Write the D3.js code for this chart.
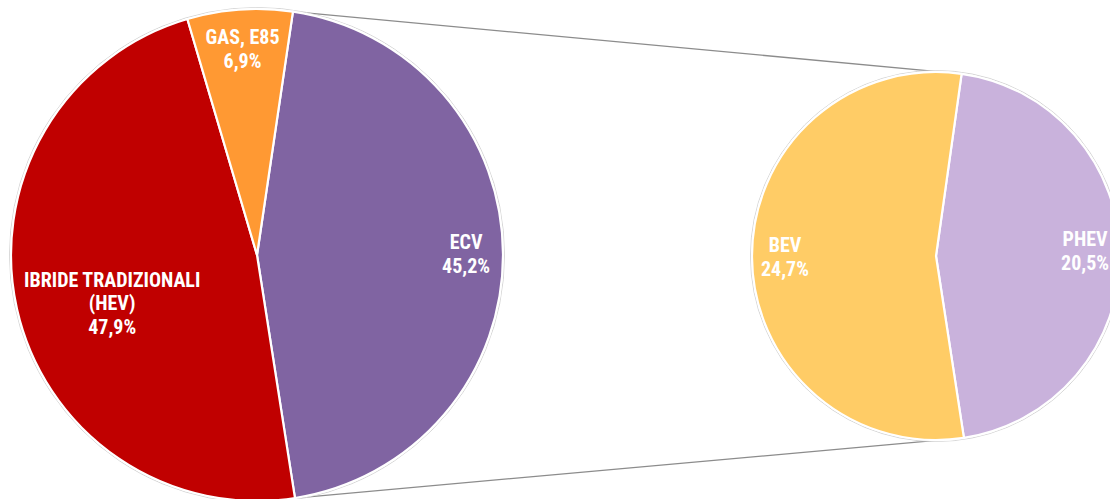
<!DOCTYPE html>
<html>
<head>
<meta charset="utf-8">
<script src="https://cdn.jsdelivr.net/npm/d3@7"></script>
<style>
  html, body { margin: 0; padding: 0; background: #fff; overflow: hidden; }
  text { font-family: "Roboto Condensed", "Arial Narrow", sans-serif; font-stretch: condensed; font-weight: bold; fill: #fff; }
</style>
</head>
<body>
<svg id="vis"></svg>
<script>
// main pie
const mainLabels = [["ECV"], ["IBRIDE TRADIZIONALI", "(HEV)"], ["GAS, E85"]];
const mainValues = [45.2, 47.9, 6.9];
const mainColors = ["#8064A2", "#C00000", "#FF9933"];

// secondary pie (split of ECV)
const subLabels = [["PHEV"], ["BEV"]];
const subValues = [20.5, 24.7];
const subColors = ["#C9B2DC", "#FFCC66"];

const width = 1110,
      height = 499;

const svg = d3.select("#vis")
  .attr("width", width)
  .attr("height", height);

const fmt = v => d3.format(".1f")(v).replace(".", ",") + "%";
const rad = deg => deg * Math.PI / 180;

// label radius as fraction of r, plus small nudges (px) to sit like the original
let main = { cx: 257, cy: 255, r: 246, start: 8.4,
             labelR: [0.85, 0.62, 0.84], nudge: [[0, 0], [4, 15], [0, 0]] },
    sub  = { cx: 936, cy: 256, r: 184, start: 8.0,
             labelR: [0.81, 0.81], nudge: [[0, -4], [-2, 0]] };

function drawPie(cfg, labels, values, colors) {
  const pie = d3.pie().sort(null)
    .startAngle(rad(cfg.start))
    .endAngle(rad(cfg.start + 360));
  const arcs = pie(values);
  const arc = d3.arc().innerRadius(0).outerRadius(cfg.r);

  const g = svg.append("g")
    .attr("transform", `translate(${cfg.cx},${cfg.cy})`);

  g.append("circle")
    .attr("r", cfg.r + 1.5)
    .attr("fill", "none")
    .attr("stroke", "#d4d4d4")
    .attr("stroke-width", 1);

  g.selectAll("path.slice")
    .data(arcs)
    .join("path")
      .attr("class", "slice")
      .attr("d", arc)
      .attr("fill", (d, i) => colors[i])
      .attr("stroke", "#fff")
      .attr("stroke-width", 2.2)
      .attr("stroke-linejoin", "round");

  arcs.forEach((d, i) => {
    const mid = (d.startAngle + d.endAngle) / 2,
          lr = cfg.r * cfg.labelR[i],
          x = Math.sin(mid) * lr + cfg.nudge[i][0],
          y = -Math.cos(mid) * lr + cfg.nudge[i][1];
    const lines = labels[i].concat([fmt(values[i])]);
    const lh = 23.5;
    const t = g.append("text")
      .attr("text-anchor", "middle")
      .attr("font-size", 20);
    lines.forEach((s, k) => {
      t.append("tspan")
        .attr("x", x)
        .attr("y", y + (k - (lines.length - 1) / 2) * lh + 7)
        .text(s);
    });
  });

  return arcs;
}

function pointAt(cfg, angle) {
  return [cfg.cx + Math.sin(angle) * cfg.r, cfg.cy - Math.cos(angle) * cfg.r];
}

// connector lines first so pies sit on top
const mainArcs = d3.pie().sort(null).startAngle(rad(main.start)).endAngle(rad(main.start + 360))(mainValues);
const subArcs = d3.pie().sort(null).startAngle(rad(sub.start)).endAngle(rad(sub.start + 360))(subValues);
const ecv = mainArcs[0];
const conn = [
  [pointAt(main, ecv.startAngle), pointAt(sub, subArcs[0].startAngle)],
  [pointAt(main, ecv.endAngle), pointAt(sub, subArcs[0].endAngle)]
];
svg.selectAll("line.conn")
  .data(conn)
  .join("line")
    .attr("class", "conn")
    .attr("x1", d => d[0][0]).attr("y1", d => d[0][1])
    .attr("x2", d => d[1][0]).attr("y2", d => d[1][1])
    .attr("stroke", "#8c8c8c")
    .attr("stroke-width", 1.3);

drawPie(main, mainLabels, mainValues, mainColors);
drawPie(sub, subLabels, subValues, subColors);
</script>
</body>
</html>
